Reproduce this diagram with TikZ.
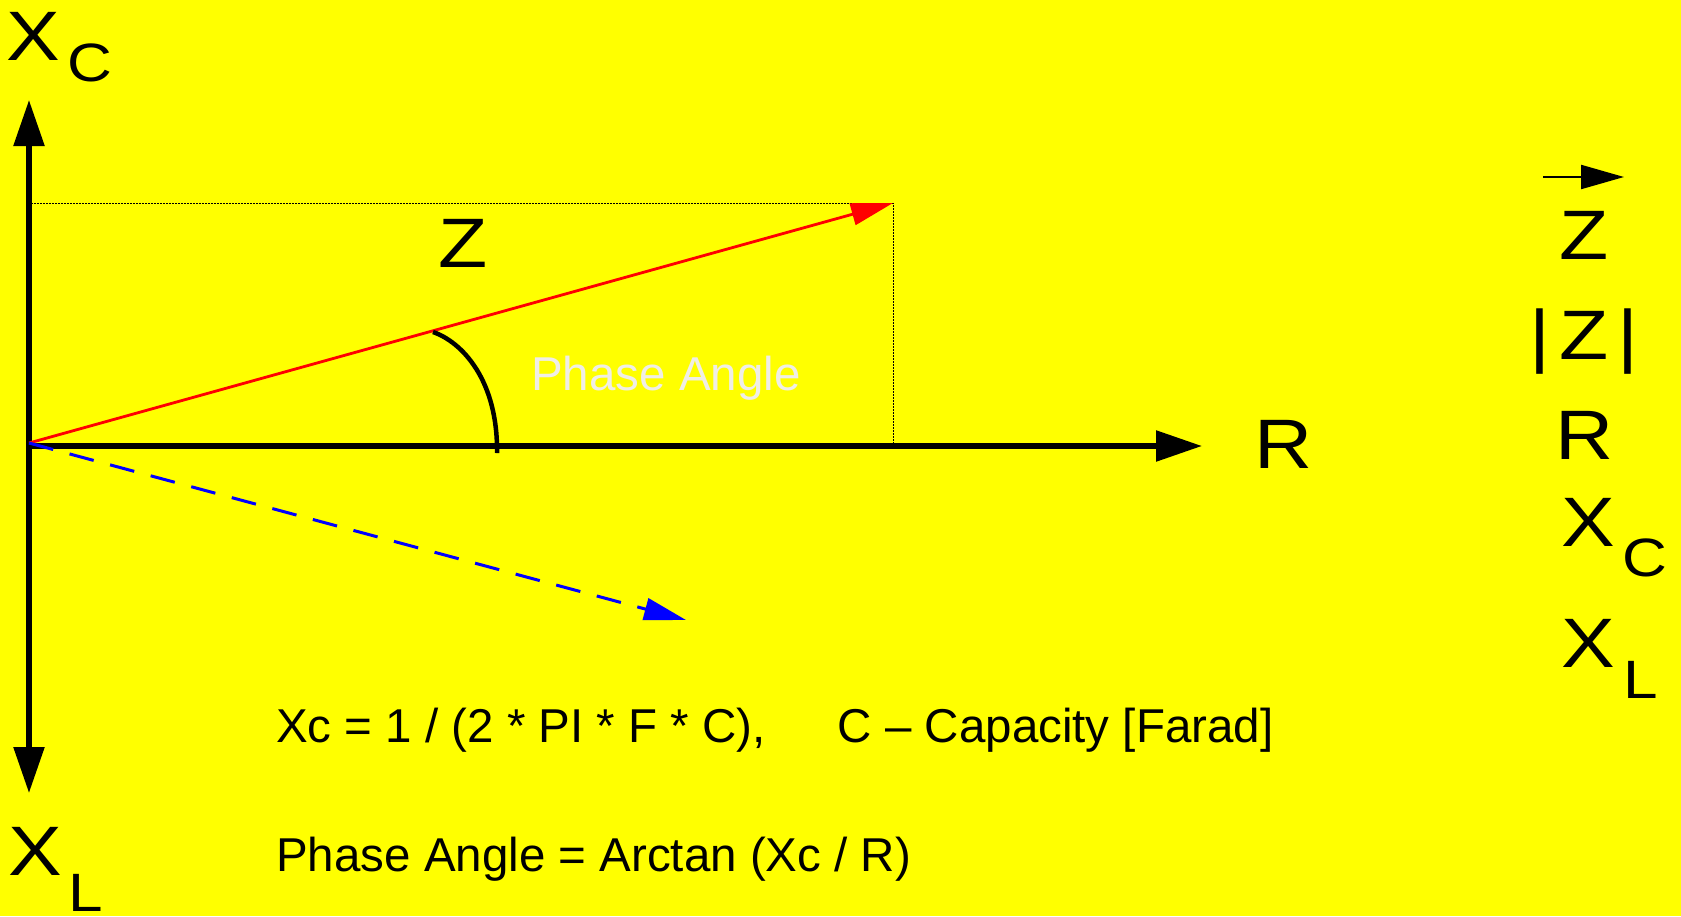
\documentclass[tikz,border=0pt]{standalone}
\usepackage{fontspec}
\setmainfont{Liberation Sans}
\newfontfamily\widesans[FakeStretch=1.15]{Liberation Sans}
\usepackage{xcolor}
\usetikzlibrary{arrows.meta}
\definecolor{bgyellow}{HTML}{FFFF00}
\definecolor{palegray}{HTML}{F0EEE6}
\tikzset{
  bigtip/.tip={Triangle[length=46pt, width=30pt]},
  vectip/.tip={Triangle[length=42pt, width=22pt]},
}

\begin{document}
\begin{tikzpicture}[x=1pt, y=-1pt,
  axis/.style={line width=5.5pt},
  vec/.style={line width=2.8pt, -vectip},
  guide/.style={line width=1pt, dash pattern=on 1.5pt off 1.5pt},
  letter/.style={inner sep=0pt, anchor=base, font=\widesans\fontsize{70}{70}\selectfont},
  sub/.style={inner sep=0pt, anchor=base, font=\widesans\fontsize{54}{54}\selectfont},
  formula/.style={inner sep=0pt, anchor=base west, font=\fontsize{47.5}{47.5}\selectfont}]
  % Background
  \useasboundingbox (0,0) rectangle (1681,916);
  \fill[bgyellow] (0,0) rectangle (1681,916);
  % Axes
  \coordinate (O) at (29,446);
  \coordinate (xcTip) at (29,100);
  \coordinate (xlTip) at (29,793);
  \coordinate (rTip) at (1202,446);
  \draw[axis, bigtip-bigtip] (xlTip) -- (xcTip);
  \draw[axis, -bigtip] (O) -- (rTip);
  % Guide lines to the tip of Z
  \coordinate (zTip) at (893,203);
  \coordinate (zFoot) at (893,446);
  \coordinate (imTop) at (31,203);
  \draw[guide] (imTop) -- (zTip) -- (zFoot);
  % Vectors
  \coordinate (vecStart) at (29,443);
  \coordinate (xlVec) at (686,620);
  \draw[vec, red] (vecStart) -- (zTip);
  \draw[vec, blue, line width=3pt, dash pattern=on 25pt off 17pt] (vecStart) -- (xlVec);
  % Phase angle arc
  \coordinate (arcA) at (433,332);
  \coordinate (arcB) at (497,453);
  \draw[line width=4.5pt] (arcA) .. controls (462,342) and (498,380) .. (arcB);
  % Axis labels
  \node[letter] (xcLbl) at (33,60) {X};
  \node[sub] (xcSub) at (90,81) {C};
  \node[letter] (xlLbl) at (35,875) {X};
  \node[sub] (xlSub) at (86,911) {L};
  \node[letter] (zLbl) at (463,267) {Z};
  \node[letter] (rLbl) at (1284,468) {R};
  \node[formula, text=palegray] (phiLbl) at (531,390) {Phase Angle};
  % Formulas
  \node[formula] (xcForm) at (276,742) {Xc = 1 / (2 * PI * F * C),\hspace{72pt}C – Capacity [Farad]};
  \node[formula] (phiForm) at (276,871) {Phase Angle = Arctan (Xc / R)};
  % Legend
  \coordinate (lgArrA) at (1543,177);
  \coordinate (lgArrB) at (1624,177);
  \draw[line width=2.2pt, -{Triangle[length=43pt, width=24pt]}] (lgArrA) -- (lgArrB);
  \node[letter] (lgZ) at (1584,259) {Z};
  \node[letter] (lgAbsZ) at (1584,359) {|\kern9pt Z\kern9pt|};
  \node[letter] (lgR) at (1585,459) {R};
  \node[letter] (lgXc) at (1588,546) {X};
  \node[sub] (lgXcSub) at (1645,576) {C};
  \node[letter] (lgXl) at (1588,667) {X};
  \node[sub] (lgXlSub) at (1641,698) {L};
\end{tikzpicture}
\end{document}
